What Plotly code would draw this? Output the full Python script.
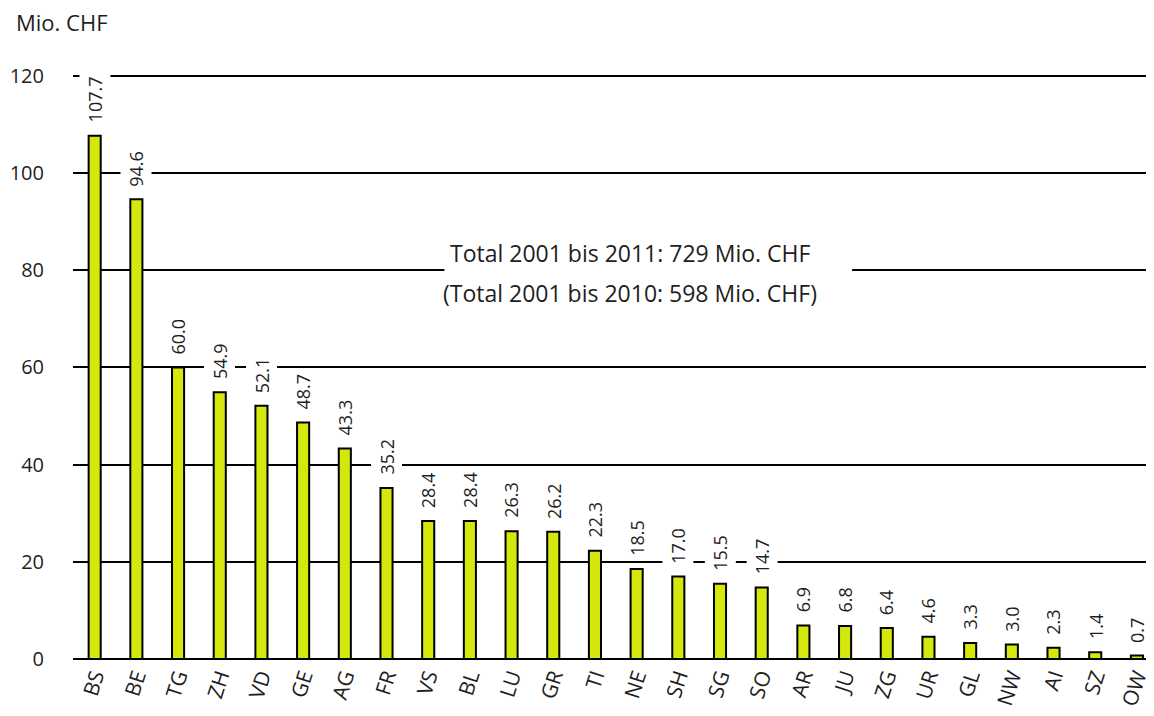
import plotly.graph_objects as go

cantons = ["BS", "BE", "TG", "ZH", "VD", "GE", "AG", "FR", "VS", "BL", "LU", "GR", "TI",
           "NE", "SH", "SG", "SO", "AR", "JU", "ZG", "UR", "GL", "NW", "AI", "SZ", "OW"]
values = [107.7, 94.6, 60.0, 54.9, 52.1, 48.7, 43.3, 35.2, 28.4, 28.4, 26.3, 26.2, 22.3,
          18.5, 17.0, 15.5, 14.7, 6.9, 6.8, 6.4, 4.6, 3.3, 3.0, 2.3, 1.4, 0.7]
y_ticks = [0, 20, 40, 60, 80, 100, 120]
unit_label = "Mio. CHF"
total_lines = ["Total 2001 bis 2011: 729 Mio. CHF", "(Total 2001 bis 2010: 598 Mio. CHF)"]

FONT = "Open Sans"
BAR_COLOR = "#d4e80e"
TXT = "#1e1e1e"

fig = go.Figure()
fig.add_trace(go.Bar(
    x=list(range(len(cantons))), y=values, width=0.29,
    marker=dict(color=BAR_COLOR, line=dict(color="black", width=2)),
    hoverinfo="skip",
))

annotations = []
for i, v in enumerate(values):
    annotations.append(dict(
        x=i, y=v, xref="x", yref="y", text=f"{v:.1f}", textangle=-90,
        showarrow=False, yanchor="bottom", xanchor="center", yshift=9,
        bgcolor="white", borderpad=3,
        font=dict(family=FONT, size=18, color=TXT),
    ))

annotations.append(dict(x=0.515, y=83.6, xref="paper", yref="y", text=total_lines[0],
                        showarrow=False, font=dict(family=FONT, size=23, color=TXT)))
annotations.append(dict(x=0.515, y=75.4, xref="paper", yref="y", text=total_lines[1],
                        showarrow=False, font=dict(family=FONT, size=23, color=TXT)))
annotations.append(dict(x=-0.0546, y=1.0, xref="paper", yref="paper", text=unit_label,
                        showarrow=False, xanchor="left", yanchor="middle", yshift=52,
                        font=dict(family=FONT, size=22, color=TXT)))

# the page body adds an 8px offset, so the figure is sized to end at the window edge
fig.update_layout(
    width=1146, height=708,
    margin=dict(l=65, r=0, t=66, b=57, autoexpand=False),
    plot_bgcolor="white", paper_bgcolor="white",
    showlegend=False,
    annotations=annotations,
    shapes=[dict(type="rect", xref="x", yref="y", x0=8.39, x1=18.17, y0=76, y1=84,
                 fillcolor="white", line=dict(width=0), layer="between")],
    xaxis=dict(
        range=[-0.52, 25.41], tickmode="array", tickvals=list(range(len(cantons))),
        ticktext=cantons, tickangle=-72, showgrid=False, zeroline=False, showline=False,
        tickfont=dict(family=FONT, size=21, color=TXT), ticks="", automargin=False,
    ),
    yaxis=dict(
        range=[0, 120.4], tickvals=y_ticks, showgrid=True, gridcolor="black", gridwidth=2,
        zeroline=True, zerolinecolor="black", zerolinewidth=2, showline=False,
        ticks="outside", ticklen=0, ticklabelstandoff=24, automargin=False,
        tickfont=dict(family=FONT, size=20, color=TXT),
    ),
)

fig.write_html("out.html")
